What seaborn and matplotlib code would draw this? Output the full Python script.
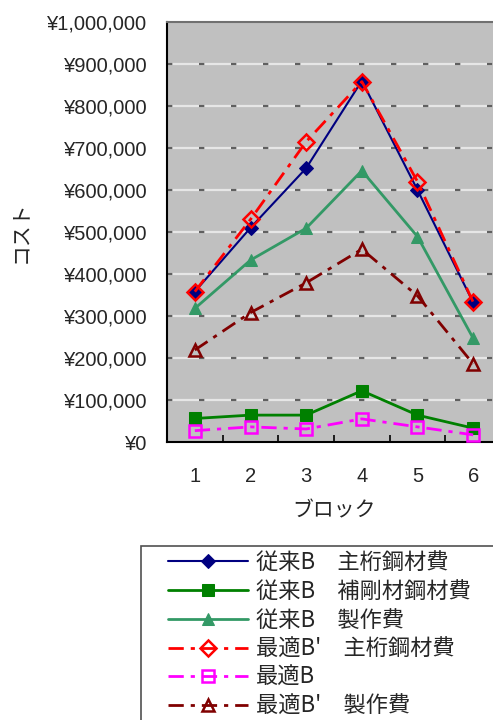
import matplotlib
matplotlib.use("Agg")
import matplotlib.pyplot as plt
from matplotlib.patches import Rectangle
from matplotlib.ticker import FuncFormatter, FixedLocator
import seaborn as sns
import pandas as pd

# Cost per block (yen)
blocks = [1, 2, 3, 4, 5, 6]
conv_main_steel = [358000, 510000, 652000, 860000, 600000, 332000]
conv_stiffener_steel = [56000, 64000, 64000, 122000, 64000, 33000]
conv_fabrication = [318000, 433000, 509000, 646000, 489000, 247000]
opt_main_steel = [358000, 530000, 715000, 858000, 620000, 333000]
opt_b = [27000, 36000, 31000, 55000, 36000, 17000]
opt_fabrication = [219000, 308000, 379000, 459000, 348000, 186000]

series_labels = [
    "従来B　主桁鋼材費",
    "従来B　補剛材鋼材費",
    "従来B　製作費",
    "最適B'　主桁鋼材費",
    "最適B",
    "最適B'　製作費",
]
series_values = [conv_main_steel, conv_stiffener_steel, conv_fabrication,
                 opt_main_steel, opt_b, opt_fabrication]

sns.set_theme(style="white")
plt.rcParams["font.family"] = ["Liberation Sans", "Noto Sans CJK JP", "DejaVu Sans"]
jp = ["Noto Sans CJK JP", "DejaVu Sans"]

fig = plt.figure(figsize=(4.93, 7.2), dpi=100)
ax = fig.add_axes([167 / 493, 1 - 442 / 720, (501 - 167) / 493, (442 - 22) / 720])
ax.set_facecolor("#c0c0c0")

dashdot = (0, (5.5, 2.5, 1.5, 2.5))
styles = [
    dict(color="#000080", marker="D", markersize=7.5, mfc="#000080", mec="#000080",
         linestyle="-", linewidth=1.5),
    dict(color="#008000", marker="s", markersize=8, mfc="#008000", mec="#008000",
         linestyle="-", linewidth=2),
    dict(color="#339966", marker="^", markersize=9, mfc="#339966", mec="#339966",
         linestyle="-", linewidth=2),
    dict(color="#ff0000", marker="D", markersize=8, mfc="none", mec="#ff0000",
         mew=1.8, linestyle=dashdot, linewidth=2),
    dict(color="#ff00ff", marker="s", markersize=8, mfc="none", mec="#ff00ff",
         mew=1.8, linestyle=dashdot, linewidth=2),
    dict(color="#800000", marker="^", markersize=9, mfc="none", mec="#800000",
         mew=1.8, linestyle=dashdot, linewidth=2),
]

for label, vals, st in zip(series_labels, series_values, styles):
    df = pd.DataFrame({"block": blocks, "cost": vals})
    sns.lineplot(data=df, x="block", y="cost", ax=ax, label=label,
                 legend=False, zorder=3, **st)

ax.set_xlim(0.5, 6.5)
ax.set_ylim(0, 1000000)

# Gridlines: light line with dark dashes on top
yt = list(range(0, 1000001, 100000))
ax.yaxis.set_major_locator(FixedLocator(yt))
for v in yt[1:-1]:
    ax.axhline(v, color="#e6e6e6", linewidth=1.6, zorder=1)
    ax.axhline(v, color="#606060", linewidth=1.6, zorder=1.5,
               linestyle=(0, (2.4, 12)))

ax.yaxis.set_major_formatter(FuncFormatter(lambda v, p: "¥{:,.0f}".format(v)))
ax.set_xticks(blocks)
ax.set_xticklabels([str(b) for b in blocks])
ax.xaxis.set_minor_locator(FixedLocator([1.5, 2.5, 3.5, 4.5, 5.5]))
ax.tick_params(axis="x", which="major", length=0, pad=18, labelsize=14.5)
ax.tick_params(axis="x", which="minor", direction="in", length=5, width=1.2,
               color="black", bottom=True)
ax.tick_params(axis="y", which="major", direction="in", length=4, width=1.2,
               color="#303030", left=True, pad=14, labelsize=14.5)

for s in ["left", "bottom"]:
    ax.spines[s].set_color("black")
    ax.spines[s].set_linewidth(1.5)
for s in ["top", "right"]:
    ax.spines[s].set_color("#707070")
    ax.spines[s].set_linewidth(1.5)

ax.set_xlabel("ブロック", family=jp, fontsize=15, labelpad=10)
ax.set_ylabel("コスト", family=jp, fontsize=15)
ax.yaxis.set_label_coords(-(167 - 31) / (501 - 167), 0.5)

# Legend box
fig.patches.append(Rectangle((141 / 493, -0.05), 0.8, 1 - 546 / 720 + 0.05,
                             transform=fig.transFigure, facecolor="white",
                             edgecolor="#505050", linewidth=1.2, zorder=0))
handles, labels = ax.get_legend_handles_labels()
leg = fig.legend(handles, labels, loc="upper left",
                 bbox_to_anchor=(168 / 493, 1 - 551 / 720),
                 frameon=False, prop={"family": jp, "size": 16},
                 handlelength=3.6, handletextpad=0.36, labelspacing=0.26,
                 borderpad=0, borderaxespad=0)

fig.savefig("out.png", dpi=100)
